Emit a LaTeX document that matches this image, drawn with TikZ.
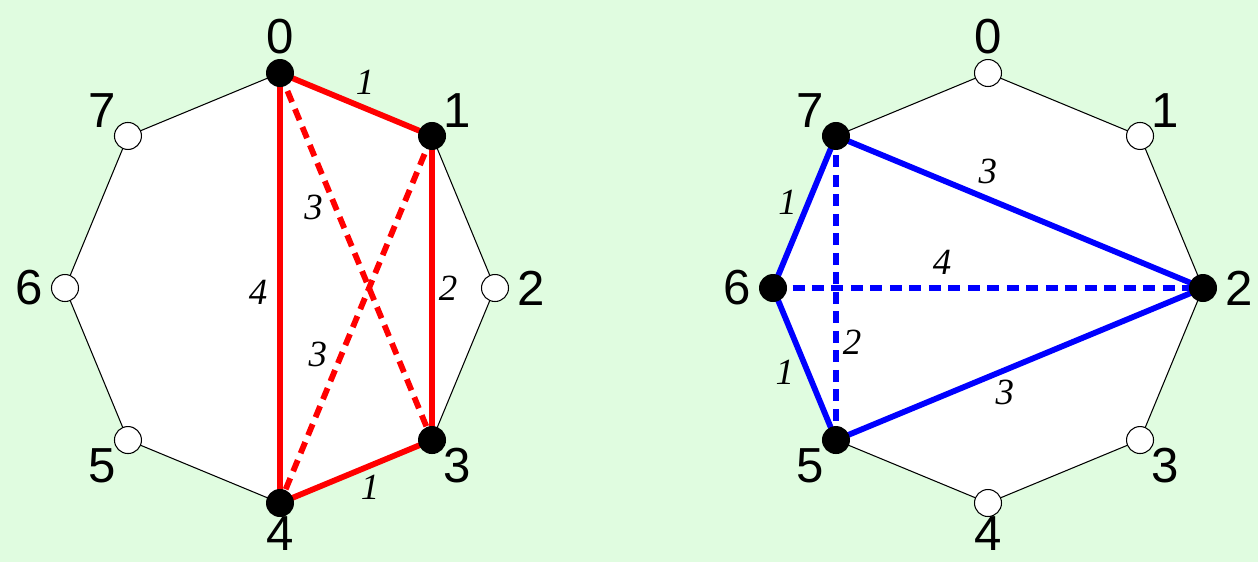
\documentclass[tikz,border=0pt]{standalone}
\usepackage{fontspec}
\newfontfamily\lab{Liberation Sans}
\newfontfamily\elab{Liberation Serif}
\usetikzlibrary{calc}
\definecolor{bg}{HTML}{E0FCE0}
\begin{document}
\begin{tikzpicture}[x=0.02cm,y=-0.02cm,
  vlabel/.style={font=\lab\fontsize{28}{28}\selectfont, inner sep=0, text=black},
  elabel/.style={font=\elab\itshape\fontsize{21}{21}\selectfont, inner sep=0, text=black},
  bdot/.style={circle,fill=black,draw=none,minimum size=0.56cm,inner sep=0},
  wdot/.style={circle,fill=white,draw=black,line width=0.6pt,minimum size=0.54cm,inner sep=0},
  octa/.style={fill=white,draw=black,line width=0.6pt},
  redge/.style={red,line width=3.3pt},
  bedge/.style={blue,line width=3.3pt},
  dsh/.style={dash pattern=on 0.24cm off 0.15cm},
]
\fill[bg] (0,0) rectangle (1258,562);
\useasboundingbox (0,0) rectangle (1258,562);
% vertex coordinates
\foreach \k in {0,...,7}{
  \coordinate (L\k) at ($(280,288)+({45*\k-90}:215)$);
  \coordinate (R\k) at ($(988,288)+({45*\k-90}:215)$);
}
% octagons
\draw[octa] (L0)--(L1)--(L2)--(L3)--(L4)--(L5)--(L6)--(L7)--cycle;
\draw[octa] (R0)--(R1)--(R2)--(R3)--(R4)--(R5)--(R6)--(R7)--cycle;
% left edges
\draw[redge] (L0)--(L1) node[elabel,midway,shift={(9,-22)}]{1};
\draw[redge,dsh] (L0)--(L3) node[elabel,pos=0.365,shift={(-22,0)}]{3};
\draw[redge] (L0)--(L4) node[elabel,pos=0.51,shift={(-22,0)}]{4};
\draw[redge] (L1)--(L3) node[elabel,midway,shift={(16,0)}]{2};
\draw[redge,dsh] (L1)--(L4) node[elabel,pos=0.594,shift={(-24,0)}]{3};
\draw[redge] (L4)--(L3) node[elabel,midway,shift={(14,16)}]{1};
% right edges
\draw[bedge] (R7)--(R2) node[elabel,pos=0.414,shift={(0,-27)}]{3};
\draw[bedge] (R7)--(R6) node[elabel,pos=0.434,shift={(-21,0)}]{1};
\draw[bedge,dsh] (R6)--(R2) node[elabel,pos=0.393,shift={(0,-26)}]{4};
\draw[bedge,dsh] (R7)--(R5) node[elabel,pos=0.678,shift={(16,0)}]{2};
\draw[bedge] (R6)--(R5) node[elabel,pos=0.553,shift={(-23,0)}]{1};
\draw[bedge] (R5)--(R2) node[elabel,pos=0.46,shift={(0,22)}]{3};
% dots
\foreach \k in {0,1,3,4}{\node[bdot] (dL\k) at (L\k) {};}
\foreach \k in {2,5,6,7}{\node[wdot] (dL\k) at (L\k) {};}
\foreach \k in {2,5,6,7}{\node[bdot] (dR\k) at (R\k) {};}
\foreach \k in {0,1,3,4}{\node[wdot] (dR\k) at (R\k) {};}
% vertex labels
\foreach \k/\r in {0/251,1/251,2/251,3/251,4/246,5/251,6/251,7/251}{
  \node[vlabel] (tL\k) at ($(280,288)+({45*\k-90}:\r)$) {\k};
  \node[vlabel] (tR\k) at ($(988,288)+({45*\k-90}:\r)$) {\k};
}
\end{tikzpicture}
\end{document}
